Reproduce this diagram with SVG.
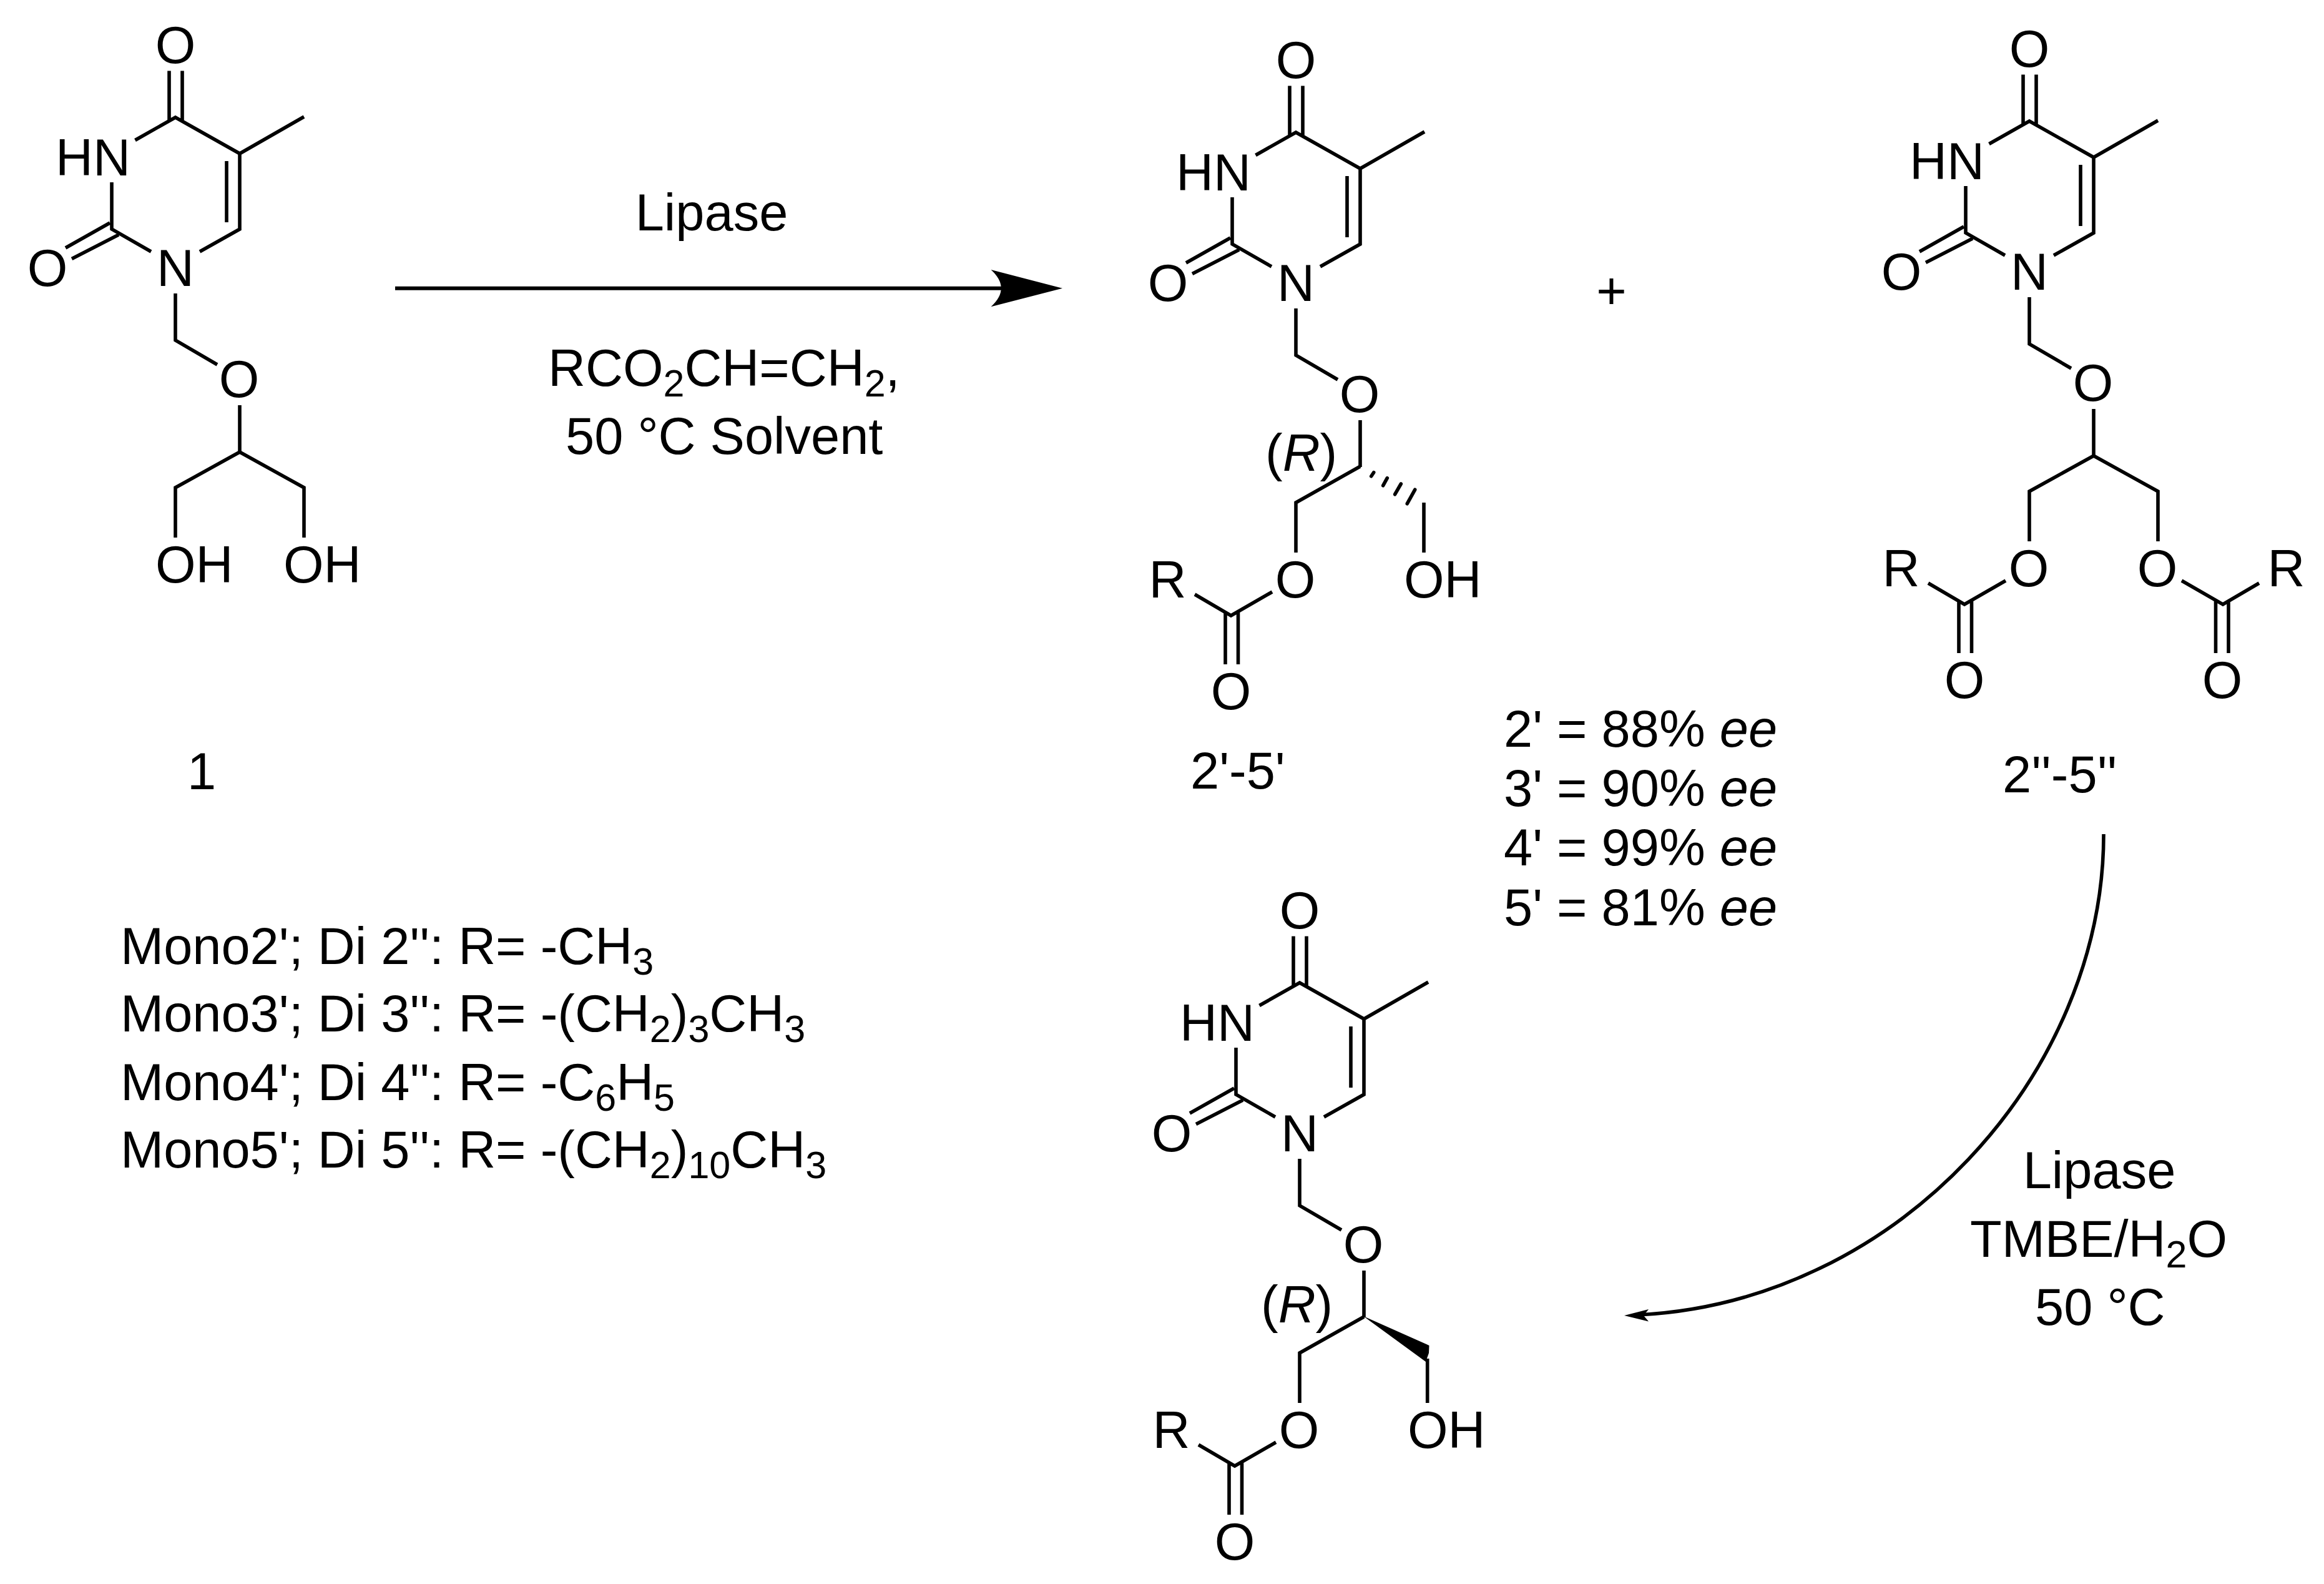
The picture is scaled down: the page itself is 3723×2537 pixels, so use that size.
<svg xmlns="http://www.w3.org/2000/svg" width="3723" height="2537" viewBox="0 0 3723 2537">
<style>
text{font-family:"Liberation Sans",Arial,sans-serif;font-size:83px;fill:#000}
.m{text-anchor:middle}
.e{text-anchor:end}
.i{font-style:italic}
.s{font-size:61px}
.b{fill:none;stroke:#000;stroke-width:5.6;stroke-linejoin:miter}
.h{fill:none;stroke:#000;stroke-width:5.6;stroke-linecap:round}
.a{fill:#000;stroke:none}
.c{fill:none;stroke:#000}
</style>
<defs>
<g id="core">
<path class="b" d="M216.500 224.500L281 188L384 246V367L320 403M487 187L384 246M363 258V356M179 292V367L242 403M105 397L176 357M115 414.500L190 376M271 113.500V193M292 113.500V193M281 470V545L348 584M384 649V724"/>
</g>
</defs>
<rect width="3723" height="2537" fill="#fff"/>
<g id="connectors">
<path class="c" stroke-width="6" d="M633 461.700H1612"/>
<path class="a" d="M1702 461.700L1587.500 432Q1620 461.700 1587.500 491.200Z"/>
<path class="c" stroke-width="5.600" d="M3370 1336C3370 1720 3040 2085 2625 2106"/>
<path class="a" d="M2602 2107L2641 2097L2633 2107L2641 2116.500Z"/>
</g>
<g id="mol1">
<use href="#core"/>
<path class="b" d="M281 861V781L384 724L487 781V861"/>
<text class="m" x="281" y="101">O</text>
<text class="e" x="209" y="281">HN</text>
<text class="m" x="76" y="458">O</text>
<text class="m" x="281" y="458">N</text>
<text class="m" x="383" y="636">O</text>
<text x="249" y="933">OH</text>
<text x="454" y="933">OH</text>
</g>
<g id="mol2" transform="translate(1795 24)">
<use href="#core"/>
<path class="b" d="M281 861V781L384 723M486 781V861M243 924L177 962L119 928M168 956V1040M188.500 956V1040"/>
<path class="h" d="M401.700 738.700L405.700 732.700M420.700 753.700L427.300 741.700M439.700 767.700L449.300 751M459.300 782.700L471.700 760.300"/>
<text class="m" x="281" y="101">O</text>
<text class="e" x="209" y="281">HN</text>
<text class="m" x="76" y="458">O</text>
<text class="m" x="281" y="458">N</text>
<text class="m" x="383" y="636">O</text>
<text x="232" y="730">(<tspan class="i">R</tspan>)</text>
<text class="m" x="280" y="933">O</text>
<text class="m" x="75.500" y="933">R</text>
<text x="454" y="933">OH</text>
<text class="m" x="177" y="1112">O</text>
</g>
<g id="mol3" transform="translate(2970 6)">
<use href="#core"/>
<path class="b" d="M281 861V781L384 724L487 781V861M243 924L177 962L119 928M168 956V1040M188.500 956V1040M525 924L591 962L649 928M579.500 956V1040M600 956V1040"/>
<text class="m" x="281" y="101">O</text>
<text class="e" x="209" y="281">HN</text>
<text class="m" x="76" y="458">O</text>
<text class="m" x="281" y="458">N</text>
<text class="m" x="383" y="636">O</text>
<text class="m" x="280" y="933">O</text>
<text class="m" x="75.500" y="933">R</text>
<text class="m" x="486" y="933">O</text>
<text class="m" x="692.500" y="933">R</text>
<text class="m" x="177" y="1112">O</text>
<text class="m" x="590" y="1112">O</text>
</g>
<g id="mol4" transform="translate(1801 1386)">
<use href="#core"/>
<path class="b" d="M281 861V781L384 723M485.700 790V861M243 924L177 962L119 928M168 956V1040M188.500 956V1040"/>
<path class="a" d="M383 722L488.500 769L488 781L483 795Z"/>
<text class="m" x="281" y="101">O</text>
<text class="e" x="209" y="281">HN</text>
<text class="m" x="76" y="458">O</text>
<text class="m" x="281" y="458">N</text>
<text class="m" x="383" y="636">O</text>
<text x="219" y="732">(<tspan class="i">R</tspan>)</text>
<text class="m" x="280" y="933">O</text>
<text class="m" x="75.500" y="933">R</text>
<text x="454" y="933">OH</text>
<text class="m" x="177" y="1112">O</text>
</g>
<g id="label-1"><text class="m" x="323" y="1264">1</text></g>
<g id="label-2p"><text x="1907" y="1263">2'-5'</text></g>
<g id="label-2pp"><text x="3208" y="1269">2''-5''</text></g>
<g id="plus"><text class="m" x="2581.500" y="494">+</text></g>
<g id="cond-top">
<text class="m" x="1140" y="369">Lipase</text>
<text x="878" y="617.700">RCO<tspan class="s" dy="17">2</tspan><tspan dy="-17">CH=CH</tspan><tspan class="s" dy="17">2</tspan><tspan dy="-17">,</tspan></text>
<text x="906" y="726.700">50 °C Solvent</text>
</g>
<g id="cond-bottom">
<text class="m" x="3363" y="1903">Lipase</text>
<text x="3156" y="2012.700">TMBE/H<tspan class="s" dy="17">2</tspan><tspan dy="-17">O</tspan></text>
<text x="3260" y="2122">50 °C</text>
</g>
<g id="ee">
<text x="2409" y="1195.700">2' = 88% <tspan class="i">ee</tspan></text>
<text x="2409" y="1291">3' = 90% <tspan class="i">ee</tspan></text>
<text x="2409" y="1385.700">4' = 99% <tspan class="i">ee</tspan></text>
<text x="2409" y="1481.700">5' = 81% <tspan class="i">ee</tspan></text>
</g>
<g id="r-list">
<text x="193" y="1544">Mono2'; Di 2'': R= -CH<tspan class="s" dy="17">3</tspan></text>
<text x="193" y="1652">Mono3'; Di 3'': R= -(CH<tspan class="s" dy="17">2</tspan><tspan dy="-17">)</tspan><tspan class="s" dy="17">3</tspan><tspan dy="-17">CH</tspan><tspan class="s" dy="17">3</tspan></text>
<text x="193" y="1761.700">Mono4'; Di 4'': R= -C<tspan class="s" dy="17">6</tspan><tspan dy="-17">H</tspan><tspan class="s" dy="17">5</tspan></text>
<text x="193" y="1870">Mono5'; Di 5'': R= -(CH<tspan class="s" dy="17">2</tspan><tspan dy="-17">)</tspan><tspan class="s" dy="17">10</tspan><tspan dy="-17">CH</tspan><tspan class="s" dy="17">3</tspan></text>
</g>
</svg>
